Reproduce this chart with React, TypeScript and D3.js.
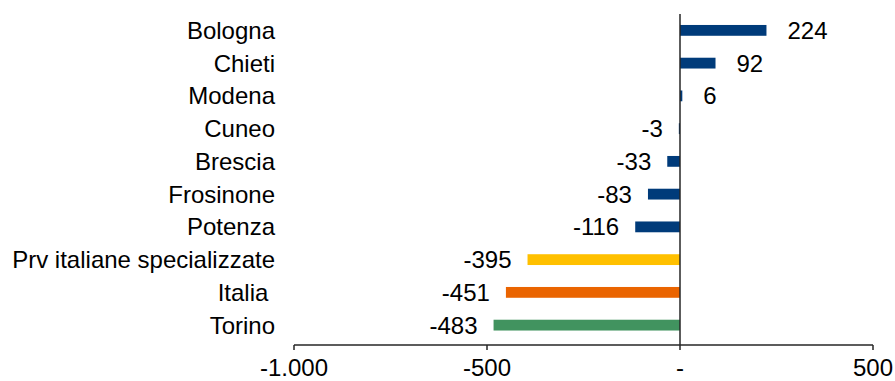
import React from "react";
import * as d3 from "d3";

// Categories, top to bottom
const categories = [
  "Bologna",
  "Chieti",
  "Modena",
  "Cuneo",
  "Brescia",
  "Frosinone",
  "Potenza",
  "Prv italiane specializzate",
  "Italia ",
  "Torino",
];
const values = [224, 92, 6, -3, -33, -83, -116, -395, -451, -483];
const barColors = [
  "#003B7A",
  "#003B7A",
  "#003B7A",
  "#003B7A",
  "#003B7A",
  "#003B7A",
  "#003B7A",
  "#FFC000",
  "#EA6400",
  "#41935F",
];
const tickValues = [-1000, -500, 0, 500];
const tickLabels = ["-1.000", "-500", "-", "500"];

const W = 895;
const H = 381;
const FONT = "Liberation Sans, Arial, sans-serif";
const FS = 24;

export default function App() {
  const x = d3.scaleLinear().domain([-1000, 500]).range([294, 873]);
  const y = d3
    .scaleBand<string>()
    .domain(categories)
    .range([14, 341.5])
    .paddingInner(0.67)
    .paddingOuter(0.335);
  const axisY = 345;
  const x0 = x(0);

  return (
    <svg
      width={W}
      height={H}
      style={{ position: "absolute", left: 0, top: 0, background: "#fff" }}
      fontFamily={FONT}
    >
      {/* bars */}
      {categories.map((c, i) => {
        const v = values[i];
        const xs = x(Math.min(0, v));
        const xe = x(Math.max(0, v));
        return (
          <rect
            key={c}
            x={xs}
            y={y(c)!}
            width={Math.max(xe - xs, 1)}
            height={y.bandwidth()}
            fill={barColors[i]}
          />
        );
      })}

      {/* vertical zero line */}
      <line x1={x0} x2={x0} y1={14} y2={axisY} stroke="#262626" strokeWidth={1.5} />

      {/* bottom axis */}
      <line x1={x(-1000)} x2={x(500)} y1={axisY} y2={axisY} stroke="#262626" strokeWidth={1.5} />
      {tickValues.map((t, i) => (
        <g key={t}>
          <line x1={x(t)} x2={x(t)} y1={axisY} y2={axisY + 5} stroke="#262626" strokeWidth={1.5} />
          <text x={x(t)} y={375.5} textAnchor="middle" fontSize={FS} fill="#000">
            {tickLabels[i]}
          </text>
        </g>
      ))}

      {/* category labels */}
      {categories.map((c) => (
        <text
          key={c}
          x={275}
          y={y(c)! + y.bandwidth() / 2}
          dy="0.35em"
          textAnchor="end"
          fontSize={FS}
          fill="#000"
          style={{ whiteSpace: "pre" }}
        >
          {c}
        </text>
      ))}

      {/* value labels */}
      {categories.map((c, i) => {
        const v = values[i];
        const pos = v >= 0;
        return (
          <text
            key={c}
            x={pos ? x(v) + 21 : x(v) - 16}
            y={y(c)! + y.bandwidth() / 2}
            dy="0.35em"
            textAnchor={pos ? "start" : "end"}
            fontSize={FS}
            fill="#000"
          >
            {v}
          </text>
        );
      })}
    </svg>
  );
}
